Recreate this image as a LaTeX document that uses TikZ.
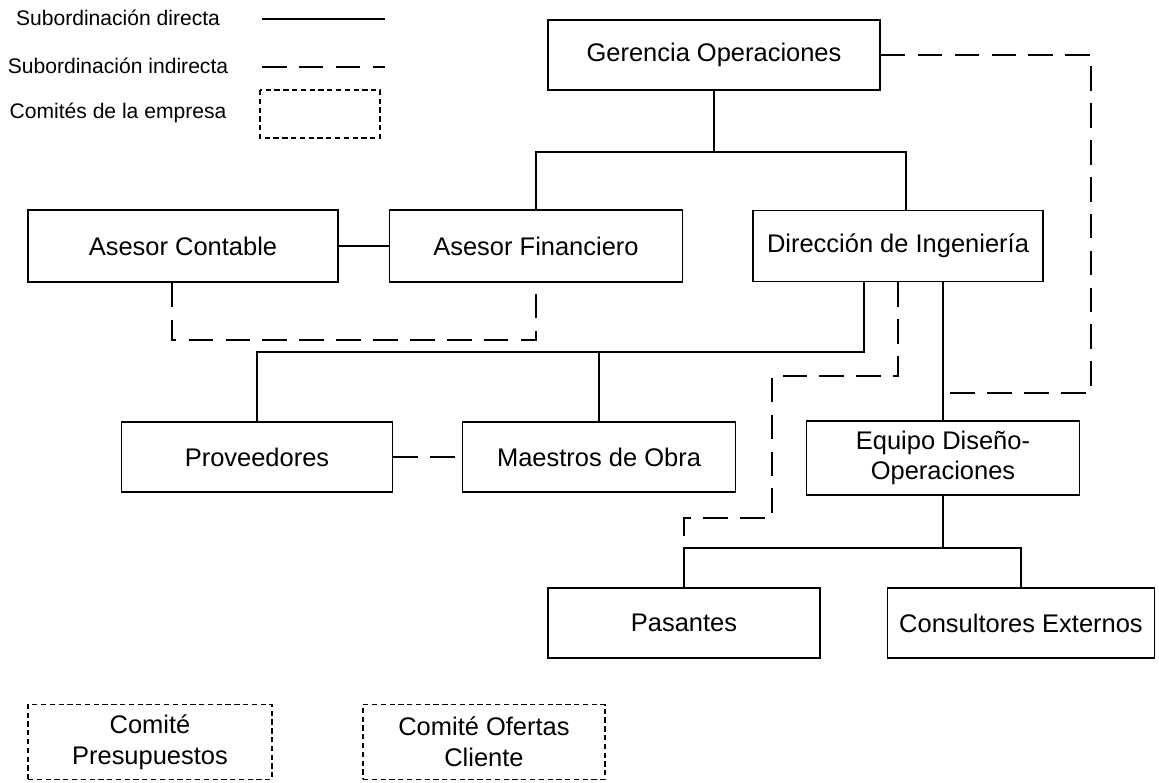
\documentclass[tikz,border=0pt]{standalone}
\usepackage{fontspec}
\setmainfont{Liberation Sans}
\usetikzlibrary{positioning,calc}

\begin{document}
\begin{tikzpicture}[x=0.02cm,y=-0.02cm,
    box/.style={draw,line width=1pt,align=center,inner sep=0pt,
        font=\fontsize{14.5}{17.5}\selectfont},
    comite/.style={box,dash pattern=on 3pt off 2pt},
    direct/.style={line width=1pt},
    indirect/.style={line width=1pt,dash pattern=on 14pt off 7pt},
    legend/.style={font=\fontsize{12}{14}\selectfont}]
    \useasboundingbox (0,0) rectangle (1159,783);

    % Legend
    \node[legend] at (118,18) {Subordinación directa};
    \node[legend] at (118,66) {Subordinación indirecta};
    \node[legend] at (118,113) {Comités de la empresa};
    \draw[direct] (262,19) -- (385,19);
    \draw[indirect] (262,67) -- (385,67);
    \draw[line width=1pt,dash pattern=on 3pt off 2pt] (260,90) rectangle (380,138);

    % Boxes
    \node[box,minimum width=6.64cm,minimum height=1.4cm] (ger) at (714,55) {Gerencia Operaciones};
    \node[box,minimum width=6.2cm,minimum height=1.44cm] (cont) at (183,246) {Asesor Contable};
    \node[box,minimum width=5.86cm,minimum height=1.44cm] (fin) at (536,246) {Asesor Financiero};
    \node[box,minimum width=5.8cm,minimum height=1.42cm] (dir) at (898,246) {Dirección de Ingeniería};
    \node[box,minimum width=5.42cm,minimum height=1.4cm] (prov) at (257,457) {Proveedores};
    \node[box,minimum width=5.46cm,minimum height=1.4cm] (mae) at (599,457) {Maestros de Obra};
    \node[box,minimum width=5.46cm,minimum height=1.48cm] (equ) at (943,458) {Equipo Diseño-\\Operaciones};
    \node[box,minimum width=5.44cm,minimum height=1.4cm] (pas) at (684,623) {Pasantes};
    \node[box,minimum width=5.34cm,minimum height=1.4cm] (cons) at (1021,623) {Consultores Externos};

    % Committees
    \node[comite,minimum width=4.88cm,minimum height=1.5cm] (pres) at (150,742) {Comité\\Presupuestos};
    \node[comite,minimum width=4.84cm,minimum height=1.5cm] (ofer) at (484,742) {Comité Ofertas\\Cliente};

    % Direct lines
    \coordinate (gj) at (714,152);
    \draw[direct] (ger.south) -- (gj);
    \draw[direct] (fin.north) |- (gj) -| ($(dir.north)+(8,0)$);
    \draw[direct] (cont.east) -- (fin.east -| fin.west);
    \coordinate (dj) at (864,352);
    \draw[direct] (dir.south -| dj) -- (dj) -| (prov.north);
    \draw[direct] (mae.north) -- (mae.north |- dj);
    \draw[direct] (dir.south -| equ.north) -- (equ.north);
    \coordinate (ej) at (943,548);
    \draw[direct] (equ.south) -- (ej);
    \draw[direct] (pas.north) |- (ej) -| (cons.north);

    % Indirect lines
    \coordinate (cj) at (172,340);
    \draw[indirect] (cont.south -| cj) -- (cj) -| (fin.south);
    \draw[indirect] (prov.east) -- (mae.west);
    \coordinate (rj) at (1091,393);
    \draw[indirect] (ger.east) -| (rj) -- (rj -| equ.north);
    \coordinate (pj1) at (772,376);
    \coordinate (pj2) at (772,518);
    \draw[indirect] (dir.south) |- (pj1) -- (pj2) -| (pas.north);
\end{tikzpicture}
\end{document}
